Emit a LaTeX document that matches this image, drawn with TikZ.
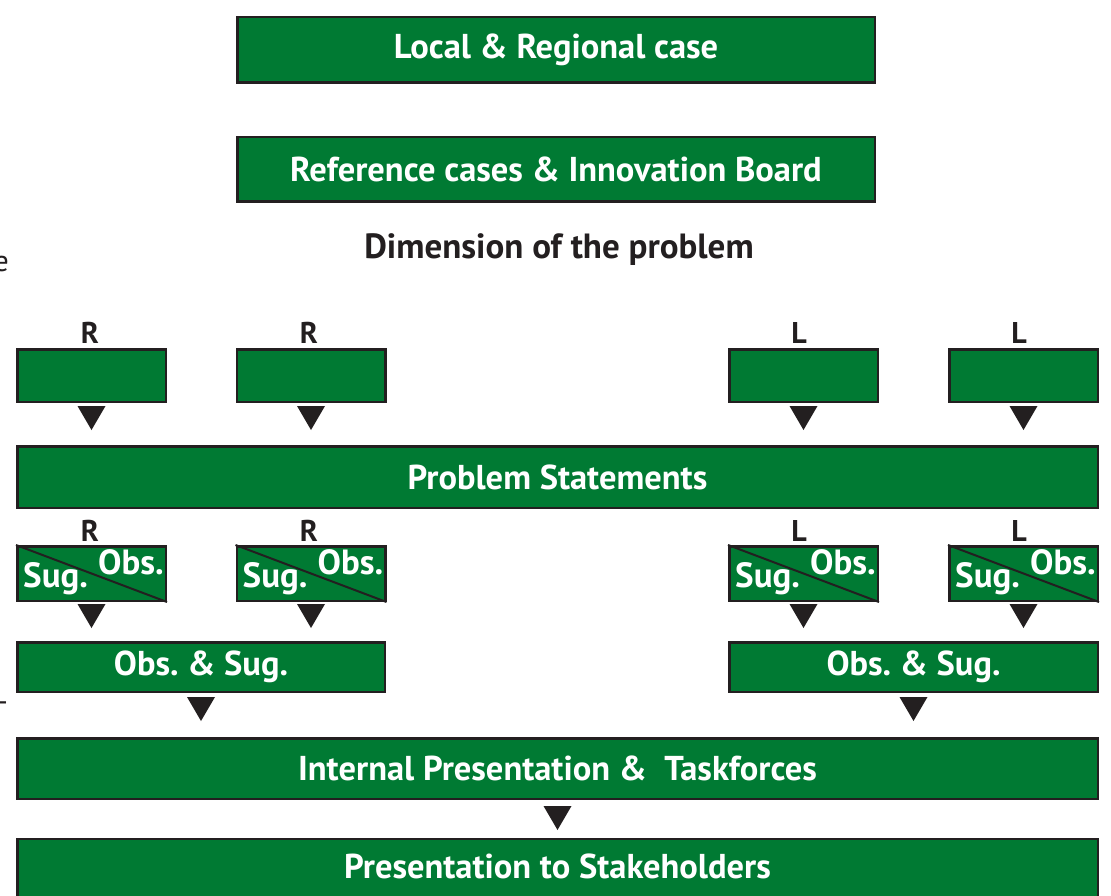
\documentclass[tikz,border=0pt]{standalone}
\usepackage{fontspec}
\setmainfont{PT Sans}
\usetikzlibrary{calc}
\definecolor{boxgreen}{RGB}{0,122,51}
\definecolor{ink}{RGB}{35,31,32}
\newcommand\dtri[1]{\fill[ink] ($(#1)+(-14,0)$) -- ($(#1)+(14,0)$) -- ($(#1)+(0,24)$) -- cycle;}
\begin{document}
\frenchspacing
\begin{tikzpicture}[x=1pt,y=-1pt,
  gbox/.style={draw=ink, line width=2.5pt, fill=boxgreen, text=white,
    font=\bfseries\fontsize{34.5}{36}\selectfont, inner sep=0pt},
  lbl/.style={text=ink, font=\bfseries\fontsize{30}{32}\selectfont, inner sep=0pt},
  sml/.style={text=white, font=\bfseries\fontsize{35}{37}\selectfont, inner sep=0pt}]
\clip (0,0) rectangle (1111,896);
\fill[white] (0,0) rectangle (1111,896);
% top boxes
\node[gbox, minimum width=637.5, minimum height=65.5] (t1) at (556,50) {Local \& Regional case};
\node[gbox, minimum width=637.5, minimum height=64.5] (t2) at (556,169.5) {Reference cases \& Innovation Board};
\node[lbl, font=\bfseries\fontsize{35}{37}\selectfont] (dim) at (559,250) {Dimension of the problem};
% fragments at left edge
\node[text=ink, font=\fontsize{30}{32}\selectfont, anchor=base east, inner sep=0pt] (fe) at (9,271) {e};
\node[text=ink, font=\fontsize{30}{32}\selectfont, anchor=east, inner sep=0pt] (fd) at (10,707) {–};
% labels
\foreach \n/\x/\t in {1/90/R,2/309/R,3/799/L,4/1019/L}{
  \node[lbl] (la\n) at (\x,333) {\t};
  \node[lbl] (lb\n) at (\x,531) {\t};
}
% first row boxes
\foreach \n/\x in {1/91.5,2/311,3/803.5,4/1023.5}{
  \node[gbox, minimum width=148.5, minimum height=52.5] (a\n) at (\x,375.5) {};
  \dtri{$(a\n.south)+(0,3)$}
}
% problem statements
\node[gbox, minimum width=1080.5, minimum height=61.5] (ps) at (557.5,477) {Problem Statements};
% sug/obs boxes
\foreach \n/\x in {1/91.5,2/311,3/803.5,4/1023.5}{
  \node[gbox, minimum width=148.5, minimum height=54.5] (s\n) at (\x,573.5) {};
  \draw[ink, line width=2pt] (s\n.north west) -- (s\n.south east);
  \node[sml, anchor=base east] (so\n) at ($(s\n.south east)+(-3,-28)$) {Obs.};
  \node[sml, anchor=base west] (ss\n) at ($(s\n.south west)+(7,-15)$) {Sug.};
  \dtri{$(s\n.south)+(0,2)$}
}
% obs & sug
\node[gbox, minimum width=367.5, minimum height=49.5] (os1) at (201,667) {Obs. \& Sug.};
\node[gbox, minimum width=368.5, minimum height=49.5] (os2) at (913.5,667) {Obs. \& Sug.};
\dtri{$(os1.south)+(0,4)$}
\dtri{$(os2.south)+(0,4)$}
% internal
\node[gbox, minimum width=1080.5, minimum height=60.5] (ip) at (557.5,768.5) {Internal Presentation \&\ \ Taskforces};
\dtri{$(ip.south)+(0,6)$}
% presentation
\node[gbox, minimum width=1080.5, minimum height=70] (pr) at (557.5,874) {};
\node[text=white, font=\bfseries\fontsize{34.5}{36}\selectfont, inner sep=0pt] (prt) at (557.5,866) {Presentation to Stakeholders};
\end{tikzpicture}
\end{document}
